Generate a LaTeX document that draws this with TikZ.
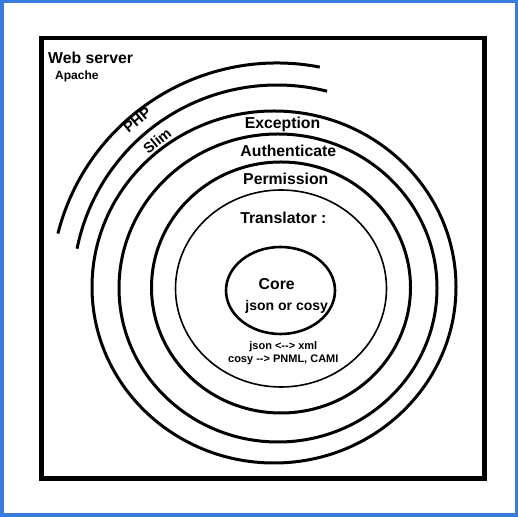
\documentclass[tikz,border=0pt]{standalone}
\usepackage{fontspec}
\newfontfamily\labelfont{Liberation Sans}[Ligatures=TeXOff]
\usepackage{tikz}
\usetikzlibrary{calc,positioning}
\definecolor{framblue}{RGB}{58,124,222}

\begin{document}
\begin{tikzpicture}[auto,x=1bp,y=1bp]
	\tikzstyle{ring} = [draw, line width=3bp]
	\tikzstyle{lbl} = [inner sep=0pt, font=\labelfont\bfseries\fontsize{15.8bp}{19bp}\selectfont]
	\tikzstyle{sublbl} = [lbl, font=\labelfont\bfseries\fontsize{11bp}{13bp}\selectfont]
	
	\useasboundingbox (0,0) rectangle (518,517);
	\draw [framblue, line width=3.5bp] (1.75,1.75) rectangle (516.25,515.25);
	\draw [line width=4.5bp] (41.5,38.5) rectangle (484.5,479);
	
	\coordinate (c) at (277,228);
	
	\draw [ring] (c) ++(165.8:226) arc[start angle=165.8, end angle=79.1, radius=226];
	\draw [ring] (c) ++(168.6:204) arc[start angle=168.6, end angle=75.8, radius=204];
	\draw [ring] (274,230) ellipse [x radius=182, y radius=176];
	\draw [ring] (278,229) ellipse [x radius=159, y radius=154];
	\draw [ring] (281,229.5) ellipse [x radius=129.5, y radius=125.5];
	\draw [ring, line width=1.6bp] (281,228.5) ellipse [x radius=105.5, y radius=98.5];
	\draw [ring, line width=2.6bp] (280.5,226.5) ellipse [x radius=54.5, y radius=43.5];
	
	\node [lbl, anchor=base west] (web) at (48,453) {Web server};
	\node [lbl, anchor=base west, font=\labelfont\bfseries\fontsize{12bp}{14bp}\selectfont] (apache) at (55,437) {Apache};
	
	\node [lbl, rotate=39.6, font=\labelfont\bfseries\fontsize{15bp}{18bp}\selectfont] (php) at ($(c)+(129.6:219.5)$) {PHP};
	\node [lbl, rotate=39, font=\labelfont\bfseries\fontsize{14.5bp}{17bp}\selectfont] (slim) at ($(c)+(129:190.5)$) {Slim};
	
	\node [lbl, anchor=base] (exception) at (282.5,388.7) {Exception};
	\node [lbl, anchor=base] (auth) at (288.3,360.3) {Authenticate};
	\node [lbl, anchor=base] (perm) at (285.8,332.7) {Permission};
	\node [lbl, anchor=base] (trans) at (283.3,293) {Translator :};
	
	\node [lbl, anchor=base] (core) at (276.7,227) {Core};
	\node [lbl, anchor=base, font=\labelfont\bfseries\fontsize{14bp}{16bp}\selectfont] (coreformat) at (286.7,206.3) {json or cosy};
	
	\node [sublbl, anchor=base] (jsonxml) at (283.3,167) {json <--> xml};
	\node [sublbl, below = 2.3bp of jsonxml] (cosyout) {cosy --> PNML, CAMI};
	
\end{tikzpicture}
\end{document}
